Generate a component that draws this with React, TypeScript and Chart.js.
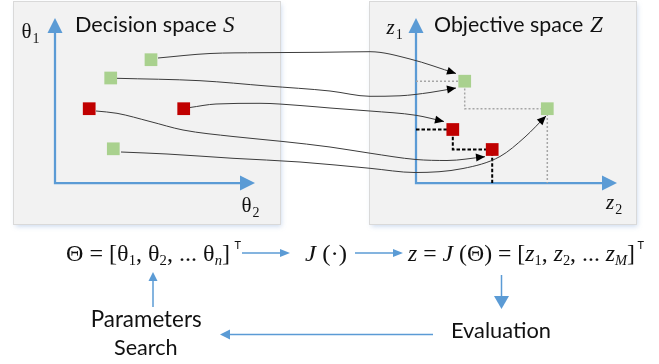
import React, { useEffect, useRef } from 'react';
import { Chart, registerables } from 'chart.js';

Chart.register(...registerables);

const CANVAS_W = 659;
const CANVAS_H = 364;

// ---------------- DATA ----------------
// Decision space S: candidate parameter vectors (θ2, θ1), axis units measured from the axis origin
const decisionTheta2 = [96, 55.7, 34.2, 128.7, 58.3];
const decisionTheta1 = [123.3, 105, 74.3, 74.3, 34.2];
const decisionDominated = [false, false, true, true, false];

// Objective space Z: images J(Θ) as (z2, z1)
const objectiveZ2 = [48.7, 131.3, 36.8, 76.2];
const objectiveZ1 = [101.8, 74.3, 53.5, 33.5];
const objectiveDominated = [false, false, true, true];

// Connector curves Θ -> J(Θ), waypoints in diagram coordinates (x right, y down)
const connectorA = [[158, 58], [210, 53.5], [260, 52.7], [320, 52.3], [370, 51.7], [410, 59], [456, 73.5]];
const connectorB = [[117, 78.3], [200, 80.7], [267, 86], [330, 91], [370, 96.3], [400, 95.8], [430, 92.5], [456, 88]];
const connectorD = [[190, 107.5], [216, 104], [260, 103.3], [300, 105.5], [330, 108], [370, 111], [416, 115.3], [444, 121.5]];
const connectorC = [[96, 111], [117, 113.3], [150, 121.5], [183, 130], [233, 136.5], [283, 141.5], [330, 147], [370, 153.2], [416, 159.5], [447, 160.5], [485, 156.7]];
const connectorE = [[121, 152], [167, 154], [233, 158.3], [300, 162], [370, 168.3], [415, 172.5], [463, 168.5], [500, 156.5], [525, 137], [546, 116]];
const connectors = [connectorA, connectorB, connectorC, connectorD, connectorE];

// Text content
const decisionTitle = 'Decision space';
const decisionSymbol = 'S';
const objectiveTitle = 'Objective space';
const objectiveSymbol = 'Z';
const searchLabel = ['Parameters', 'Search'];
const evalLabel = 'Evaluation';
type Run = [string, 'r' | 'i' | 'sub' | 'subi' | 'sup'];
const formulaTheta: Run[] = [['Θ = [', 'r'], ['θ', 'r'], ['1', 'sub'], [', θ', 'r'], ['2', 'sub'], [', ... θ', 'r'], ['n', 'subi'], [']', 'r']];
const formulaJ: Run[] = [['J', 'i'], [' (·)', 'r']];
const formulaZ: Run[] = [['z', 'i'], [' = ', 'r'], ['J', 'i'], [' (Θ) = [', 'r'], ['z', 'i'], ['1', 'sub'], [', ', 'r'], ['z', 'i'], ['2', 'sub'], [', ... ', 'r'], ['z', 'i'], ['M', 'subi'], [']', 'r']];
const transposeMark = 'T';

// ---------------- LAYOUT / STYLE ----------------
const decisionOrigin = [55, 183];
const objectiveOrigin = [416, 183];
const decisionAxisEnd = [200, 165];
const objectiveAxisEnd = [201, 165];
const panelBoxes = [[13.5, 1.5, 280.5, 224.5], [369.5, 1.5, 636.5, 224.5]];
const flowArrows = [
  { from: [242, 253], to: [290, 253], head: [10, 4] },
  { from: [355, 253], to: [403, 253], head: [10, 4] },
  { from: [501.5, 275], to: [501.5, 309], head: [13, 7.5] },
  { from: [433, 334.5], to: [220, 334.5], head: [10, 5] },
  { from: [153, 307], to: [153, 272], head: [9, 4.5] },
];
const BLUE = '#5b9bd5';
const GREEN = '#a9d18e';
const RED = '#c00000';
const SANS = 'Lato, "Open Sans", "DejaVu Sans", sans-serif';
const SERIF = '"Liberation Serif", "Times New Roman", "DejaVu Serif", serif';

function arrow(ctx: CanvasRenderingContext2D, x0: number, y0: number, x1: number, y1: number, len: number, half: number, color: string, lw: number) {
  const dx = x1 - x0, dy = y1 - y0, d = Math.hypot(dx, dy) || 1;
  const ux = dx / d, uy = dy / d;
  const bx = x1 - ux * len, by = y1 - uy * len;
  ctx.strokeStyle = color;
  ctx.lineWidth = lw;
  ctx.beginPath();
  ctx.moveTo(x0, y0);
  ctx.lineTo(bx + ux, by + uy);
  ctx.stroke();
  ctx.fillStyle = color;
  ctx.beginPath();
  ctx.moveTo(x1, y1);
  ctx.lineTo(bx - uy * half, by + ux * half);
  ctx.lineTo(bx + uy * half, by - ux * half);
  ctx.closePath();
  ctx.fill();
}

function fitText(ctx: CanvasRenderingContext2D, text: string, x: number, baseline: number, width: number, family: string, style = '') {
  ctx.font = `${style} 100px ${family}`;
  const w = ctx.measureText(text).width;
  const size = (100 * width) / w;
  ctx.font = `${style} ${size}px ${family}`;
  ctx.fillText(text, x, baseline);
}

function runFont(s: string, size: number) {
  switch (s) {
    case 'i': return `italic ${size}px ${SERIF}`;
    case 'sub': return `${Math.round(size * 0.62)}px ${SERIF}`;
    case 'subi': return `italic ${Math.round(size * 0.62)}px ${SERIF}`;
    default: return `${size}px ${SERIF}`;
  }
}

function drawRuns(ctx: CanvasRenderingContext2D, runs: Run[], x0: number, x1: number, baseline: number, size: number) {
  let w = 0;
  for (const [t, s] of runs) { ctx.font = runFont(s, size); w += ctx.measureText(t).width; }
  const k = (x1 - x0) / w;
  ctx.save();
  ctx.translate(x0, baseline);
  ctx.scale(k, 1);
  let x = 0;
  for (const [t, s] of runs) {
    ctx.font = runFont(s, size);
    const dy = s === 'sub' || s === 'subi' ? size * 0.18 : 0;
    ctx.fillText(t, x, dy);
    x += ctx.measureText(t).width;
  }
  ctx.restore();
}

function drawAxisPair(ctx: CanvasRenderingContext2D, xs: any, ys: any, end: number[]) {
  const ox = xs.getPixelForValue(0), oy = ys.getPixelForValue(0);
  const ex = xs.getPixelForValue(end[0]), ey = ys.getPixelForValue(end[1]);
  const len = 15, half = 7.5;
  ctx.strokeStyle = BLUE;
  ctx.lineWidth = 2.25;
  ctx.lineJoin = 'miter';
  ctx.beginPath();
  ctx.moveTo(ox, ey + len - 1);
  ctx.lineTo(ox, oy);
  ctx.lineTo(ex - len + 1, oy);
  ctx.stroke();
  ctx.fillStyle = BLUE;
  ctx.beginPath();
  ctx.moveTo(ox, ey); ctx.lineTo(ox - half, ey + len); ctx.lineTo(ox + half, ey + len); ctx.closePath(); ctx.fill();
  ctx.beginPath();
  ctx.moveTo(ex, oy); ctx.lineTo(ex - len, oy - half); ctx.lineTo(ex - len, oy + half); ctx.closePath(); ctx.fill();
}

function symbolLabel(ctx: CanvasRenderingContext2D, main: string, sub: string, italic: boolean, x: number, baseline: number) {
  ctx.font = `${italic ? 'italic ' : ''}21px ${SERIF}`;
  ctx.fillText(main, x, baseline);
  const w = ctx.measureText(main).width;
  ctx.font = `14px ${SERIF}`;
  ctx.fillText(sub, x + w + 1, baseline + 5);
}

const CONNECTOR_START = 2;

const diagramPlugin = {
  id: 'diagram',
  beforeDatasetsDraw(chart: any) {
    const ctx: CanvasRenderingContext2D = chart.ctx;
    const X = chart.scales.x, Y = chart.scales.y;
    ctx.save();
    for (const [x0, y0, x1, y1] of panelBoxes) {
      const L = X.getPixelForValue(x0), T = Y.getPixelForValue(y0);
      const R = X.getPixelForValue(x1), B = Y.getPixelForValue(y1);
      ctx.save();
      ctx.shadowColor = 'rgba(110,150,205,0.35)';
      ctx.shadowBlur = 5;
      ctx.shadowOffsetX = 1;
      ctx.shadowOffsetY = 2;
      ctx.fillStyle = '#f2f2f2';
      ctx.fillRect(L, T, R - L, B - T);
      ctx.restore();
      ctx.strokeStyle = '#d9d9d9';
      ctx.lineWidth = 1;
      ctx.strokeRect(L, T, R - L, B - T);
    }
    drawAxisPair(ctx, chart.scales.xS, chart.scales.yS, decisionAxisEnd);
    drawAxisPair(ctx, chart.scales.xZ, chart.scales.yZ, objectiveAxisEnd);

    ctx.fillStyle = '#111';
    ctx.textBaseline = 'alphabetic';
    ctx.textAlign = 'left';
    fitText(ctx, decisionTitle, 75, 31.7, 141.7, SANS);
    ctx.font = `italic 23px ${SERIF}`;
    ctx.fillText(decisionSymbol, 223, 31.7);
    fitText(ctx, objectiveTitle, 434, 31.7, 149.3, SANS);
    ctx.font = `italic 23px ${SERIF}`;
    ctx.fillText(objectiveSymbol, 590, 31.7);

    symbolLabel(ctx, 'θ', '1', false, 21.5, 37.7);
    symbolLabel(ctx, 'θ', '2', false, 241.5, 211.5);
    symbolLabel(ctx, 'z', '1', true, 386.5, 34.3);
    symbolLabel(ctx, 'z', '2', true, 606, 209.3);
    ctx.restore();
  },
  afterDatasetsDraw(chart: any) {
    const ctx: CanvasRenderingContext2D = chart.ctx;
    ctx.save();
    // arrowheads on connector curves
    for (let i = 0; i < connectors.length; i++) {
      const meta = chart.getDatasetMeta(CONNECTOR_START + i);
      const pts = meta.data;
      const last = pts[pts.length - 1];
      const prev = pts[pts.length - 2];
      let bx = prev.x, by = prev.y;
      if (typeof last.cp1x === 'number' && Math.hypot(last.x - last.cp1x, last.y - last.cp1y) > 0.5) {
        bx = last.cp1x; by = last.cp1y;
      }
      const dx = last.x - bx, dy = last.y - by, d = Math.hypot(dx, dy) || 1;
      const ux = dx / d, uy = dy / d;
      const len = 9, half = 4;
      const qx = last.x - ux * len, qy = last.y - uy * len;
      ctx.fillStyle = '#000';
      ctx.beginPath();
      ctx.moveTo(last.x, last.y);
      ctx.lineTo(qx - uy * half, qy + ux * half);
      ctx.lineTo(qx + uy * half, qy - ux * half);
      ctx.closePath();
      ctx.fill();
    }
    // flow arrows
    const X = chart.scales.x, Y = chart.scales.y;
    for (const a of flowArrows) {
      arrow(ctx, X.getPixelForValue(a.from[0]), Y.getPixelForValue(a.from[1]), X.getPixelForValue(a.to[0]), Y.getPixelForValue(a.to[1]), a.head[0], a.head[1], BLUE, 1.5);
    }
    // formulas
    ctx.fillStyle = '#111';
    ctx.textBaseline = 'alphabetic';
    ctx.textAlign = 'left';
    drawRuns(ctx, formulaTheta, 66, 230, 261, 23);
    drawRuns(ctx, formulaJ, 305, 347, 261, 23);
    drawRuns(ctx, formulaZ, 408, 635, 261, 23);
    ctx.font = `11px ${SANS}`;
    ctx.fillText(transposeMark, 234.5, 249);
    ctx.fillText(transposeMark, 637.5, 249);
    // labels
    fitText(ctx, searchLabel[0], 90.7, 327, 111, SANS);
    fitText(ctx, searchLabel[1], 114, 355, 63.7, SANS);
    fitText(ctx, evalLabel, 451, 337.7, 100, SANS);
    ctx.restore();
  },
};

export default function App() {
  const canvasRef = useRef<HTMLCanvasElement | null>(null);

  useEffect(() => {
    if (!canvasRef.current) return;
    const decisionPoints = decisionTheta2.map((x, i) => ({ x, y: decisionTheta1[i] }));
    const decisionColors = decisionDominated.map((d) => (d ? RED : GREEN));
    const objectivePoints = objectiveZ2.map((x, i) => ({ x, y: objectiveZ1[i] }));
    const objectiveColors = objectiveDominated.map((d) => (d ? RED : GREEN));

    // staircase (attainment) lines for each front in objective space
    const staircase = (dominated: boolean) => {
      const idx = objectiveZ2.map((_, i) => i).filter((i) => objectiveDominated[i] === dominated).sort((a, b) => objectiveZ2[a] - objectiveZ2[b]);
      const path: { x: number; y: number }[] = [{ x: 0, y: objectiveZ1[idx[0]] }];
      idx.forEach((i, k) => {
        path.push({ x: objectiveZ2[i], y: objectiveZ1[i] });
        const next = idx[k + 1];
        path.push({ x: objectiveZ2[i], y: next === undefined ? 0 : objectiveZ1[next] });
      });
      return path;
    };

    const chart = new Chart(canvasRef.current, {
      type: 'scatter',
      data: {
        datasets: [
          {
            data: decisionPoints, xAxisID: 'xS', yAxisID: 'yS', pointStyle: 'rect', pointRadius: 9,
            pointBackgroundColor: decisionColors, backgroundColor: decisionColors, borderWidth: 0, pointBorderWidth: 0, order: 0, clip: false,
          } as any,
          {
            data: objectivePoints, xAxisID: 'xZ', yAxisID: 'yZ', pointStyle: 'rect', pointRadius: 9,
            pointBackgroundColor: objectiveColors, backgroundColor: objectiveColors, borderWidth: 0, pointBorderWidth: 0, order: 0, clip: false,
          } as any,
          ...connectors.map((c) => ({
            data: c.map(([x, y]) => ({ x, y })), xAxisID: 'x', yAxisID: 'y', showLine: true, pointRadius: 0,
            borderColor: '#3c3c3c', borderWidth: 1, cubicInterpolationMode: 'monotone', order: 2, clip: false,
          } as any)),
          {
            data: staircase(false), xAxisID: 'xZ', yAxisID: 'yZ', showLine: true, pointRadius: 0,
            borderColor: '#a6a6a6', borderWidth: 1.5, borderDash: [2, 2], tension: 0, order: 3, clip: false,
          } as any,
          {
            data: staircase(true), xAxisID: 'xZ', yAxisID: 'yZ', showLine: true, pointRadius: 0,
            borderColor: '#000', borderWidth: 2, borderDash: [3.5, 2], tension: 0, order: 3, clip: false,
          } as any,
        ],
      },
      options: {
        animation: false,
        responsive: true,
        maintainAspectRatio: false,
        events: [],
        layout: { padding: 0, autoPadding: false },
        plugins: { legend: { display: false }, tooltip: { enabled: false }, title: { display: false } },
        scales: {
          x: { type: 'linear', axis: 'x', min: 0, max: CANVAS_W, display: false },
          y: { type: 'linear', axis: 'y', min: 0, max: CANVAS_H, reverse: true, display: false },
          xS: { type: 'linear', axis: 'x', min: -decisionOrigin[0], max: CANVAS_W - decisionOrigin[0], display: false },
          yS: { type: 'linear', axis: 'y', min: decisionOrigin[1] - CANVAS_H, max: decisionOrigin[1], display: false },
          xZ: { type: 'linear', axis: 'x', min: -objectiveOrigin[0], max: CANVAS_W - objectiveOrigin[0], display: false },
          yZ: { type: 'linear', axis: 'y', min: objectiveOrigin[1] - CANVAS_H, max: objectiveOrigin[1], display: false },
        } as any,
      },
      plugins: [diagramPlugin as any],
    });
    return () => chart.destroy();
  }, []);

  return (
    <div style={{ position: 'fixed', left: 0, top: 0, width: CANVAS_W, height: CANVAS_H, background: '#fff' }}>
      <canvas ref={canvasRef} />
    </div>
  );
}
